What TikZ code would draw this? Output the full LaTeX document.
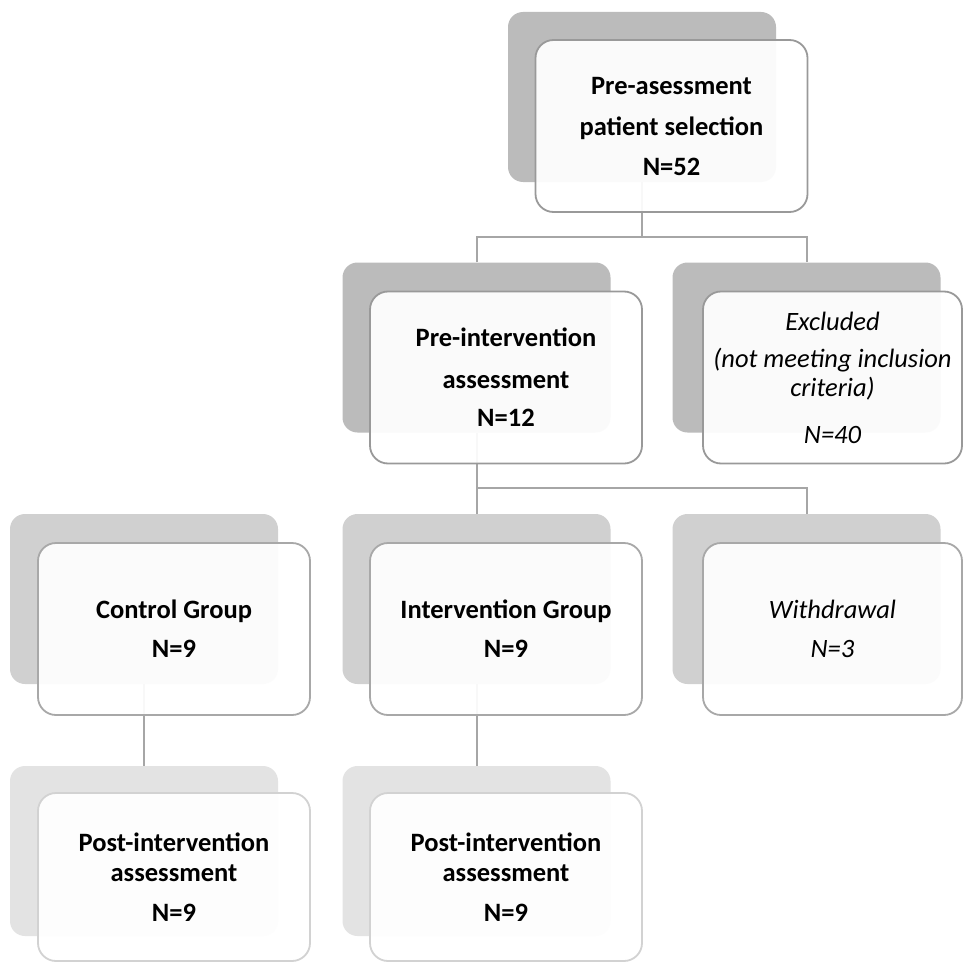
\documentclass[tikz,border=0pt]{standalone}
\usepackage{fontspec}
\setmainfont{Carlito}
\begin{document}
\begin{tikzpicture}[x=1pt,y=-1pt,
  shbox/.style={draw=none, rounded corners=15pt, inner sep=0pt, minimum width=268pt, minimum height=170pt},
  shA/.style={shbox, fill=shadeA},
  shB/.style={shbox, fill=shadeB},
  shC/.style={shbox, fill=shadeC},
  frbox/.style={rounded corners=18pt, fill=white, fill opacity=0.93, text opacity=1, line width=1.8pt,
     inner sep=0pt, minimum width=272pt, minimum height=172pt, align=center, text=textc,
     font=\fontsize{26.5}{31}\selectfont},
  frA/.style={frbox, draw=bordA},
  frB/.style={frbox, draw=bordB},
  frC/.style={frbox, draw=bordC},
  conn/.style={draw=connc, line width=2pt}
]
\definecolor{shadeA}{HTML}{BBBBBB}
\definecolor{shadeB}{HTML}{D0D0D0}
\definecolor{shadeC}{HTML}{E3E3E3}
\definecolor{bordA}{HTML}{999999}
\definecolor{bordB}{HTML}{A8A8A8}
\definecolor{bordC}{HTML}{D2D2D2}
\definecolor{connc}{HTML}{A6A6A6}
\definecolor{textc}{HTML}{000000}
\useasboundingbox (0,0) rectangle (963,963);
\fill[white] (0,0) rectangle (963,963);

% shadow layers
\node[shA] (s1) at (642,97) {};
\node[shA] (s2a) at (476.5,347.5) {};
\node[shA] (s2b) at (806.5,347.5) {};
\node[shB] (s3a) at (144,599) {};
\node[shB] (s3b) at (476.5,599) {};
\node[shB] (s3c) at (806.5,599) {};
\node[shC] (s4a) at (144,851) {};
\node[shC] (s4b) at (476.5,851) {};

% connectors
\coordinate (j1) at (642,237);
\coordinate (j2) at (476.5,488);
\draw[conn] (s1.south) -- (j1);
\draw[conn] (s2a.north) |- (j1) -| (s2b.north);
\draw[conn] (s2a.south) -- (s3b.north);
\draw[conn] (j2) -| (s3c.north);
\draw[conn] (s3a.south) -- (s4a.north);
\draw[conn] (s3b.south) -- (s4b.north);

% front boxes
\node[frA] (f1) at (671.5,126) {\bfseries Pre-asessment\\[10pt]\bfseries patient selection\\[9pt]\bfseries N=52};
\node[frA] (f2a) at (506,377.5) {\bfseries Pre-intervention\\[11pt]\bfseries assessment\\[7pt]\bfseries N=12};
\node[frA, minimum width=259pt] (f2b) at (832.5,377.5) {\itshape Excluded\\[6pt]\itshape (not meeting inclusion\\[-2pt]\itshape criteria)\\[16pt]\itshape N=40};
\node[frB] (f3a) at (174,629) {\bfseries Control Group\\[8pt]\bfseries N=9};
\node[frB] (f3b) at (506,629) {\bfseries Intervention Group\\[8pt]\bfseries N=9};
\node[frB, minimum width=259pt] (f3c) at (832.5,629) {\itshape Withdrawal\\[8pt]\itshape N=3};
\node[frC, minimum height=168pt] (f4a) at (174,877) {\bfseries Post-intervention\\[-1pt]\bfseries assessment\\[9pt]\bfseries N=9};
\node[frC, minimum height=168pt] (f4b) at (506,877) {\bfseries Post-intervention\\[-1pt]\bfseries assessment\\[9pt]\bfseries N=9};
\end{tikzpicture}
\end{document}
